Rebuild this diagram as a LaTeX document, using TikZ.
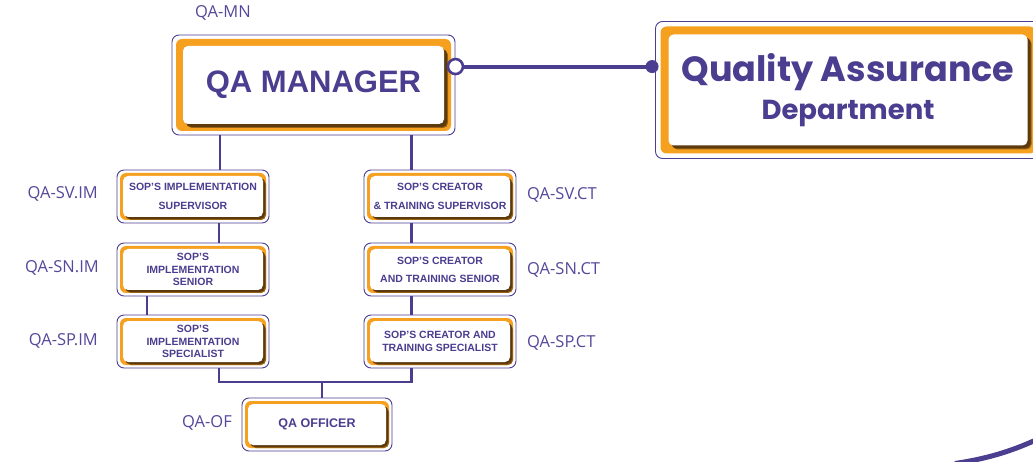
\documentclass[tikz,border=0pt]{standalone}
\usepackage{fontspec}
\setmainfont{Liberation Sans}
\newfontfamily\labfont{Open Sans}
\newfontfamily\popfont{Poppins}
\usetikzlibrary{calc}
\definecolor{purp}{HTML}{4B3D8F}
\definecolor{labc}{HTML}{54489A}
\definecolor{orng}{HTML}{F5A01E}
\definecolor{shad}{HTML}{5C3A0E}
\begin{document}
\begin{tikzpicture}[x=1pt,y=-1pt,
  card/.style n args={3}{rectangle, rounded corners=7pt, draw=purp, line width=0.9pt,
    fill=white, inner sep=0pt, text=purp, align=center,
    path picture={
      \fill[orng, rounded corners=6pt]
        ($(path picture bounding box.south west)+(#1,-#1)$) rectangle
        ($(path picture bounding box.north east)+(-#1,#1)$);
      \fill[shad!60!orng, rounded corners=5pt]
        ($(path picture bounding box.south west)+(#2+#3+1,-#2+#3+1)$) rectangle
        ($(path picture bounding box.north east)+(-#2+#3+1,#2+#3+1)$);
      \fill[shad, rounded corners=5pt]
        ($(path picture bounding box.south west)+(#2+#3,-#2+#3)$) rectangle
        ($(path picture bounding box.north east)+(-#2+#3,#2+#3)$);
      \fill[white, rounded corners=5pt]
        ($(path picture bounding box.south west)+(#2,-#2)$) rectangle
        ($(path picture bounding box.north east)+(-#2,#2)$);
    }},
  smallcard/.style={card={3}{6}{2}, minimum width=152, minimum height=53,
    font=\fontsize{10.5}{12.5}\selectfont\bfseries},
  widecard/.style={smallcard, font=\fontsize{10.5}{18.5}\selectfont\bfseries},
  lab/.style={text=labc, font=\labfont\fontsize{16.5}{19}\selectfont, inner sep=0pt},
  conn/.style={draw=purp, line width=2.6pt},
  link/.style={draw=purp, line width=4pt}
]
\useasboundingbox (0,0) rectangle (1033,462);

% main boxes
\node[card={4}{11}{3}, minimum width=283, minimum height=100,
      font=\fontsize{31}{36}\selectfont\bfseries] (mgr) at (313.5,85) {QA MANAGER};
\node[card={5}{13}{3}, minimum width=385, minimum height=137,
      font=\popfont\bfseries] (dept) at (848,90)
      {\fontsize{35}{40}\selectfont Quality Assurance\\[9pt]\fontsize{27.5}{34}\selectfont Department};

% left column
\node[widecard] (svim) at (193,196.5) {SOP'S IMPLEMENTATION\\SUPERVISOR};
\node[smallcard] (snim) at (193,269.5) {SOP'S\\IMPLEMENTATION\\SENIOR};
\node[smallcard] (spim) at (193,341.5) {SOP'S\\IMPLEMENTATION\\SPECIALIST};
% right column
\node[widecard] (svct) at (440,196.5) {SOP'S CREATOR\\\& TRAINING SUPERVISOR};
\node[widecard, font=\fontsize{10.5}{18}\selectfont\bfseries] (snct) at (440,269.5) {SOP'S CREATOR\\AND TRAINING SENIOR};
\node[smallcard, font=\fontsize{10.5}{13.5}\selectfont\bfseries] (spct) at (440,341.5) {SOP'S CREATOR AND\\TRAINING SPECIALIST};
% officer
\node[smallcard, minimum width=150, font=\fontsize{12.5}{14}\selectfont\bfseries] (qaof) at (317,424.5) {QA OFFICER};

% labels
\node[lab] (lmn) at (223,13) {QA-MN};
\node[lab, anchor=east] (lsvim) at (98,194) {QA-SV.IM};
\node[lab, anchor=east] (lsnim) at (99,268) {QA-SN.IM};
\node[lab, anchor=east] (lspim) at (98,341) {QA-SP.IM};
\node[lab, anchor=west] (lsvct) at (527,195) {QA-SV.CT};
\node[lab, anchor=west] (lsnct) at (527,270) {QA-SN.CT};
\node[lab, anchor=west] (lspct) at (527,343) {QA-SP.CT};
\node[lab, anchor=east] (lof) at (232,423) {QA-OF};

% connectors
\draw[conn] ($(svim.north)+(27,0)$) coordinate (a1) -- (a1 |- mgr.south);
\draw[conn] ($(svct.north)+(-28.5,0)$) coordinate (a2) -- (a2 |- mgr.south);
\draw[conn] ($(snim.north)+(26,0)$) coordinate (a3) -- (a3 |- svim.south);
\draw[conn] ($(spim.north)+(-46,0)$) coordinate (a4) -- (a4 |- snim.south);
\draw[conn] ($(snct.north)+(-28.5,0)$) coordinate (a5) -- (a5 |- svct.south);
\draw[conn] ($(spct.north)+(-28.5,0)$) coordinate (a6) -- (a6 |- snct.south);
\coordinate (bus) at (0,382);
\coordinate (b1) at ($(spim.south)+(26,0)$);
\coordinate (b2) at ($(spct.south)+(-28.5,0)$);
\draw[conn, line join=miter] (b1) -- (b1 |- bus) -- (b2 |- bus) -- (b2);
\draw[conn] ($(qaof.north)+(5,0)$) coordinate (b3) -- (b3 |- bus);

% manager to department link
\coordinate (c1) at ($(mgr.north east)+(0,32)$);
\coordinate (c2) at (c1 -| dept.west);
\draw[link] (c1) -- (c2);
\filldraw[draw=purp, fill=white, line width=2.6pt] (c1) circle[radius=7.5];
\fill[purp] ($(c2)+(-3,0)$) circle[radius=6.5];

% decorative arc
\draw[purp, line width=5pt] (955,463.5) .. controls (985,459) and (1010,452) .. (1038,439);
\end{tikzpicture}
\end{document}
